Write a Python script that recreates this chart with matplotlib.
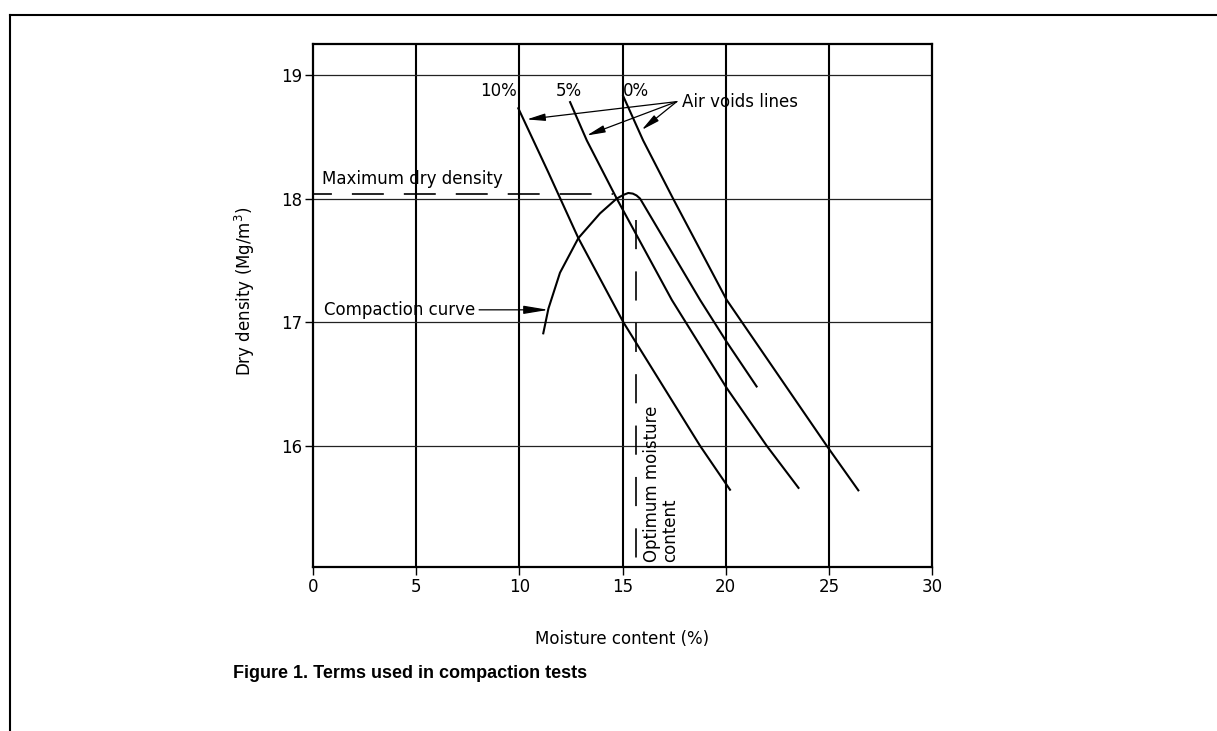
import matplotlib
matplotlib.use('Agg')
import matplotlib.pyplot as plt
from matplotlib.lines import Line2D

plt.rcParams['font.family'] = ['DejaVu Sans']
plt.rcParams['lines.scale_dashes'] = False
plt.rcParams['mathtext.fontset'] = 'dejavusans'

# ---------------- data ----------------
x_ticks = [0, 5, 10, 15, 20, 25, 30]
y_ticks = [16, 17, 18, 19]
x_grid = [5, 10, 15, 20, 25]
y_grid = [16, 17, 18, 19]

# air voids lines (moisture %, dry density Mg/m3)
av10_w = [9.95, 11.41, 12.86, 15.04, 18.76, 20.21]
av10_d = [18.73, 18.21, 17.68, 17.00, 16.00, 15.645]
av5_w = [12.46, 13.27, 14.72, 17.39, 20.04, 21.99, 23.53]
av5_d = [18.78, 18.47, 18.00, 17.18, 16.47, 16.00, 15.66]
av0_w = [15.03, 16.00, 17.45, 20.05, 24.90, 26.43]
av0_d = [18.83, 18.47, 18.00, 17.18, 16.00, 15.64]

# compaction curve
comp_w = [11.16, 11.41, 11.97, 12.86, 13.91, 14.72, 15.05, 15.28, 15.50, 15.68, 15.85,
          18.76, 20.05, 21.50]
comp_d = [16.91, 17.11, 17.40, 17.68, 17.88, 18.00, 18.03, 18.045, 18.04, 18.025, 18.00,
          17.18, 16.84, 16.48]

max_dry_density = 18.04
optimum_moisture = 15.65

# ---------------- figure ----------------
W, H = 1217, 731
fig = plt.figure(figsize=(W / 100, H / 100), dpi=100)
ax = fig.add_axes([313 / W, 1 - 567 / H, (932 - 313) / W, (567 - 44) / H])
ax.set_xlim(0, 30)
ax.set_ylim(15.02, 19.25)

for x in x_grid:
    ax.axvline(x, color='black', lw=1.5, zorder=1)
for y in y_grid:
    ax.axhline(y, color='#222222', lw=0.9, zorder=1)

lw = 1.5
for xs, ys in [(av10_w, av10_d), (av5_w, av5_d), (av0_w, av0_d), (comp_w, comp_d)]:
    ax.plot(xs, ys, color='black', lw=lw, zorder=3, solid_joinstyle='round')

# maximum dry density dashed line
ax.plot([0, 14.55], [max_dry_density, max_dry_density], color='black', lw=1.2,
        linestyle=(9.4, (23, 14.4)), zorder=3)
# optimum moisture content dashed line
ax.plot([optimum_moisture, optimum_moisture], [17.83, 15.05], color='black', lw=1.2,
        linestyle=(0, (21, 16)), zorder=3)

fs = 12
ax.text(0.45, 18.085, 'Maximum dry density', fontsize=fs, ha='left', va='bottom')
ax.text(9.9, 18.87, '10%', fontsize=fs, ha='right', va='center')
ax.text(11.75, 18.87, '5%', fontsize=fs, ha='left', va='center')
ax.text(15.0, 18.87, '0%', fontsize=fs, ha='left', va='center')
ax.text(17.9, 18.78, 'Air voids lines', fontsize=fs, ha='left', va='center')
ax.text(7.88, 17.10, 'Compaction curve', fontsize=fs, ha='right', va='center')
ax.text(16.0, 15.06, 'Optimum moisture\ncontent', fontsize=fs, rotation=90,
        ha='left', va='bottom', multialignment='left', linespacing=1.0)

arrow_small = dict(arrowstyle='-|>,head_length=1.1,head_width=0.22', color='black',
                   lw=0.9, shrinkA=0, shrinkB=0, mutation_scale=10)
src = (17.63, 18.784)
for tip in [(10.36, 18.64), (13.27, 18.51), (15.93, 18.555)]:
    ax.annotate('', xy=tip, xytext=src, arrowprops=arrow_small, zorder=4)

arrow_big = dict(arrowstyle='-|>,head_length=1.5,head_width=0.25', color='black',
                 lw=0.9, shrinkA=0, shrinkB=0, mutation_scale=10)
ax.annotate('', xy=(11.41, 17.10), xytext=(8.05, 17.10), arrowprops=arrow_big, zorder=4)

# axes styling
for s in ax.spines.values():
    s.set_linewidth(1.6)
ax.set_xticks(x_ticks)
ax.set_yticks(y_ticks)
ax.set_xticklabels([str(v) for v in x_ticks])
ax.set_yticklabels([str(v) for v in y_ticks])
ax.tick_params(direction='out', length=6, width=1, labelsize=fs, pad=2)

ax.text(0.5, -0.137, 'Moisture content (%)', transform=ax.transAxes, fontsize=fs,
        ha='center', va='center')
ax.text(-0.11, 0.528, 'Dry density (Mg/m$^3$)', transform=ax.transAxes, fontsize=fs,
        rotation=90, ha='center', va='center')

fig.text(233 / W, 1 - 673 / H, 'Figure 1. Terms used in compaction tests',
         fontsize=13, fontweight='bold', family='Liberation Sans', ha='left', va='center')

# page border lines
fig.add_artist(Line2D([10 / W, 1.0], [1 - 15 / H, 1 - 15 / H], transform=fig.transFigure,
                      color='black', lw=1.5))
fig.add_artist(Line2D([10 / W, 10 / W], [1 - 15 / H, 0.0], transform=fig.transFigure,
                      color='black', lw=1.5))

fig.savefig('out.png', dpi=100)
